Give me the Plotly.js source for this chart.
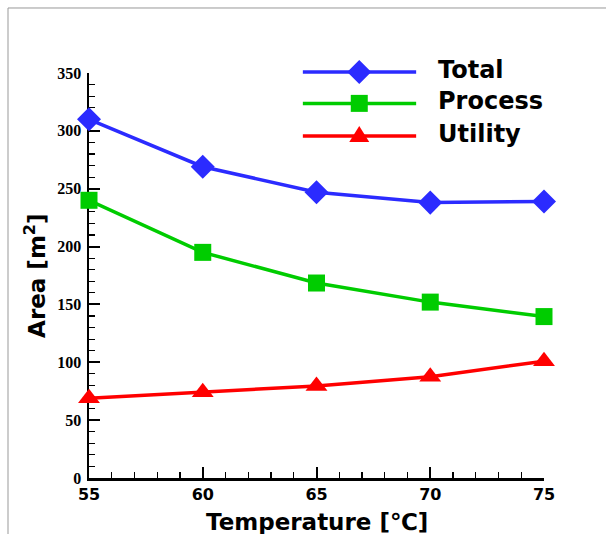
<!DOCTYPE html>
<html>
<head>
<meta charset="utf-8">
<script src="https://cdn.plot.ly/plotly-3.0.1.min.js"></script>
<style>html,body{margin:0;padding:0;background:#fff;}#chart{width:606px;height:534px;}</style>
</head>
<body>
<div id="chart"></div>
<script>
const temperature = [55, 60, 65, 70, 75];
const totalArea   = [310, 269, 247, 238, 239];
const processArea = [240, 195, 168.5, 152, 139.5];
const utilityArea = [69, 74, 79.5, 87.5, 101];
const seriesNames = ['Total', 'Process', 'Utility'];
const xTicks = [55, 60, 65, 70, 75];
const yTicks = [0, 50, 100, 150, 200, 250, 300, 350];

const blue = '#2b2bff', green = '#00cc00', red = '#ff0000';
const sansBold = 'DejaVu Sans, Verdana, sans-serif';

const traces = [
  {x: temperature, y: totalArea, name: seriesNames[0], mode: 'lines+markers', cliponaxis: false,
   line: {color: blue, width: 3.5}, marker: {symbol: 'diamond', size: 18.5, color: blue}},
  {x: temperature, y: processArea, name: seriesNames[1], mode: 'lines+markers', cliponaxis: false,
   line: {color: green, width: 3.5}, marker: {symbol: 'square', size: 17, color: green}},
  {x: temperature, y: utilityArea, name: seriesNames[2], mode: 'lines+markers', cliponaxis: false,
   line: {color: red, width: 3.5}, marker: {symbol: 'triangle-up', size: 19, color: red}}
];

// custom legend (long sample lines like the reference)
const legX0 = 0.470, legX1 = 0.719, legXm = 0.594, legTextX = 0.762;
const legY = [1.0025, 0.925, 0.8444];
const legColors = [blue, green, red];
const legPaths = [
  'M0,12 L12,0 L0,-12 L-12,0 Z',
  'M-8.5,-8.5 H8.5 V8.5 H-8.5 Z',
  'M-10,-6 L10,-6 L0,10 Z'
];

const shapes = [
  {type: 'line', xref: 'paper', yref: 'paper', x0: -0.178, x1: 1.2, y0: 1.1605, y1: 1.1605, line: {color: '#999', width: 1}},
  {type: 'line', xref: 'paper', yref: 'paper', x0: -0.178, x1: -0.178, y0: 1.1605, y1: -0.15, line: {color: '#999', width: 1}}
];
const annotations = [];
for (let i = 0; i < 3; i++) {
  shapes.push({type: 'line', xref: 'paper', yref: 'paper', x0: legX0, x1: legX1, y0: legY[i], y1: legY[i],
               line: {color: legColors[i], width: 3.5}});
  shapes.push({type: 'path', xref: 'paper', yref: 'paper', xsizemode: 'pixel', ysizemode: 'pixel',
               xanchor: legXm, yanchor: legY[i], path: legPaths[i],
               fillcolor: legColors[i], line: {width: 0}});
  annotations.push({xref: 'paper', yref: 'paper', x: legTextX, y: legY[i] + 0.006, xanchor: 'left', yanchor: 'middle',
                    showarrow: false, text: seriesNames[i],
                    font: {family: sansBold, size: 24, weight: 'bold', color: '#000'}});
}
annotations.push({xref: 'paper', yref: 'paper', x: -0.12, y: 0.5, xanchor: 'center', yanchor: 'middle',
                  textangle: -90, showarrow: false, text: 'Area [m<sup>2</sup>]',
                  font: {family: sansBold, size: 23, weight: 'bold', color: '#000'}});
annotations.push({xref: 'paper', yref: 'paper', x: 0.5, y: -0.108, xanchor: 'center', yanchor: 'middle',
                  showarrow: false, text: 'Temperature [℃]',
                  font: {family: sansBold, size: 23, weight: 'bold', color: '#000'}});

const layout = {
  width: 606, height: 534,
  margin: {l: 89, r: 62, t: 73, b: 56},
  paper_bgcolor: '#fff', plot_bgcolor: '#fff',
  showlegend: false,
  xaxis: {range: [55, 75], tickvals: xTicks, ticktext: xTicks.map(String),
          showgrid: false, zeroline: false, showline: true, linecolor: '#000', linewidth: 2.5,
          ticks: 'inside', ticklen: 11, tickwidth: 2, tickcolor: '#000', layer: 'below traces',
          ticklabelstandoff: 0,
          minor: {ticks: 'inside', ticklen: 6, dtick: 1, tickwidth: 1.2, tickcolor: '#000'},
          tickfont: {family: sansBold, size: 16, weight: 'bold', color: '#000'}},
  yaxis: {range: [0, 350], tickvals: yTicks, ticktext: yTicks.map(String),
          showgrid: false, zeroline: false, showline: true, linecolor: '#000', linewidth: 2.5,
          ticks: 'inside', ticklen: 11, tickwidth: 2, tickcolor: '#000', layer: 'below traces',
          ticklabelstandoff: 2,
          minor: {ticks: 'inside', ticklen: 6, dtick: 10, tickwidth: 1.2, tickcolor: '#000'},
          tickfont: {family: 'Liberation Serif, Times New Roman, serif', size: 16, weight: 'bold', color: '#000'}},
  shapes: shapes,
  annotations: annotations
};

Plotly.newPlot('chart', traces, layout, {staticPlot: true, displayModeBar: false});
</script>
</body>
</html>
